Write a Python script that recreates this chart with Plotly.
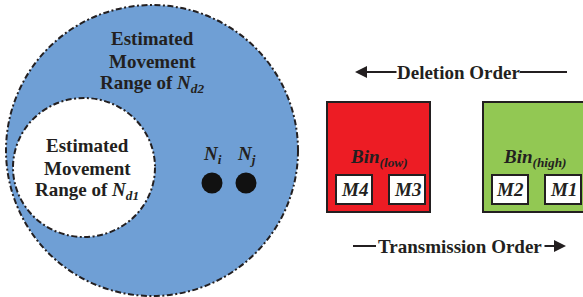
import plotly.graph_objects as go

# ---- content ----
outer_label = ["Estimated", "Movement", "Range of <i>N<sub>d2</sub></i>"]
inner_label = ["Estimated", "Movement", "Range of <i>N<sub>d1</sub></i>"]
node_names = ["N<sub>i</sub>", "N<sub>j</sub>"]
bin_names = ["Bin<sub>(low)</sub>", "Bin<sub>(high)</sub>"]
bin_colors = ["#ed1c24", "#92c853"]
msg_names = [["M4", "M3"], ["M2", "M1"]]
order_labels = ["Deletion Order", "Transmission Order"]

FONT = "Liberation Serif"
TXT = "#231f20"
LINE = "#231f20"
FS = 19
DASH = "6px,2.5px,2px,2.5px"

fig = go.Figure()
shapes = []
ann = []

# big circle
shapes.append(dict(type="circle", x0=6, y0=5, x1=298, y1=296, layer="below",
                   fillcolor="#6f9fd5", line=dict(color=LINE, width=2, dash=DASH)))
# inner circle
shapes.append(dict(type="circle", x0=13, y0=98, x1=155, y1=237, layer="below",
                   fillcolor="white", line=dict(color=LINE, width=2, dash=DASH)))

def text(x, y, s, size=FS, anchor="center"):
    ann.append(dict(x=x, y=y, xref="x", yref="y", text="<b>" + s + "</b>", showarrow=False,
                    font=dict(family=FONT, size=size, color=TXT), xanchor=anchor, yanchor="middle"))

for i, s in enumerate(outer_label):
    text(152, 38 + i * 23, s)
for i, s in enumerate(inner_label):
    text(87, 145 + i * 23, s)

# nodes
node_x = [212, 246]
for x, n in zip(node_x, node_names):
    text(x, 155, "<i>" + n + "</i>")
fig.add_trace(go.Scatter(x=node_x, y=[183, 183], mode="markers",
                         marker=dict(size=21, color="#111111"), hoverinfo="skip"))

# bins
bin_x0 = [327, 483]
for b, (x0, name, col, msgs) in enumerate(zip(bin_x0, bin_names, bin_colors, msg_names)):
    shapes.append(dict(type="rect", x0=x0, y0=102, x1=x0 + 103, y1=212, layer="below",
                       fillcolor=col, line=dict(color=LINE, width=2)))
    text(x0 + 52, 158, "<i>" + name + "</i>")
    for k, m in enumerate(msgs):
        mx0 = x0 + 9 + k * 53
        shapes.append(dict(type="rect", x0=mx0, y0=175, x1=mx0 + 36, y1=204, layer="below",
                           fillcolor="white", line=dict(color=LINE, width=2)))
        text(mx0 + 18, 189.5, "<i>" + m + "</i>")

# order labels with arrows
text(459, 72, order_labels[0])
text(460, 246, order_labels[1])
shapes.append(dict(type="line", x0=520, y0=72, x1=567, y1=72, line=dict(color=LINE, width=2)))
ann.append(dict(x=355, y=72, ax=398, ay=72, xref="x", yref="y", axref="x", ayref="y",
                text="", showarrow=True, arrowhead=2, arrowsize=1.2, arrowwidth=2, arrowcolor=LINE))
shapes.append(dict(type="line", x0=353, y0=246, x1=376, y1=246, line=dict(color=LINE, width=2)))
ann.append(dict(x=566, y=246, ax=543, ay=246, xref="x", yref="y", axref="x", ayref="y",
                text="", showarrow=True, arrowhead=2, arrowsize=1.2, arrowwidth=2, arrowcolor=LINE))

fig.update_layout(
    width=583, height=297, margin=dict(l=0, r=0, t=0, b=0),
    paper_bgcolor="white", plot_bgcolor="white", showlegend=False,
    xaxis=dict(range=[0, 583], visible=False, fixedrange=True),
    yaxis=dict(range=[297, 0], visible=False, fixedrange=True),
    shapes=shapes, annotations=ann,
)
fig.write_html("out.html", config={"displayModeBar": False},
               post_script="document.body.style.margin='0';")
